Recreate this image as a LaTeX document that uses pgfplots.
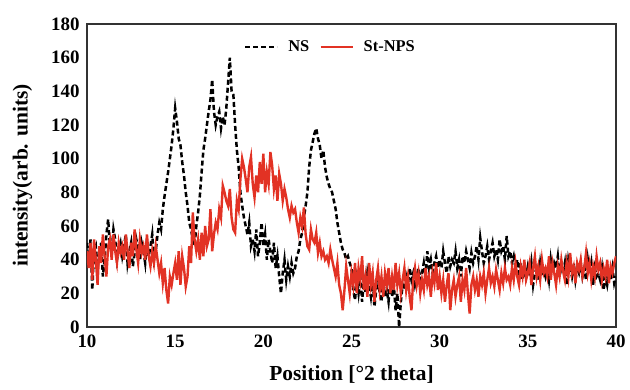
\documentclass[border=0pt]{standalone}
\usepackage{fontspec}
\setmainfont{Liberation Serif}
\usepackage{pgfplots}
\pgfplotsset{compat=1.18}
\definecolor{redline}{RGB}{226,50,36}
\begin{document}
\begin{tikzpicture}
\begin{axis}[
  scale only axis, width=529bp, height=303bp,
  xmin=10, xmax=40, ymin=0, ymax=180,
  xtick={10,15,...,40}, ytick={0,20,...,180},
  major tick length=0pt,
  axis line style={black!80, line width=1.3bp},
  /pgf/number format/assume math mode=true,
  ticklabel style={font=\fontsize{19}{22}\selectfont\bfseries},
  xticklabel style={yshift=-4bp},
  yticklabel style={xshift=-4bp},
  xlabel={Position [°2 theta]},
  ylabel={intensity(arb. units)},
  label style={font=\fontsize{21.5}{25}\selectfont\bfseries},
  xlabel style={yshift=-12bp},
  ylabel style={yshift=12bp},
  legend style={draw=none, fill=none, at={(0.46,0.924)}, anchor=center,
    font=\fontsize{16.5}{19}\selectfont\bfseries, column sep=8bp},
  legend columns=2,
  legend cell align=left,
  legend image code/.code={\draw[#1] (0bp,0bp) -- (32bp,0bp);},
]
\addplot[black, line width=2.5bp, dash pattern=on 5bp off 3bp] table[x expr=10+\coordindex/10, y index=0] {
y
50
38
52
22
45
48
35
42
50
30
40
55
64
48
45
58
52
40
46
50
42
48
55
38
45
50
36
44
52
47
40
50
45
38
52
42
48
55
40
45
55
62
58
70
78
85
92
100
108
118
130
122
112
108
98
90
80
72
62
58
52
48
60
68
78
92
105
112
120
128
135
147
128
120
125
128
118
125
120
130
145
160
140
138
120
105
95
80
72
65
60
55
62
48
52
45
58
42
50
62
48
55
40
52
45
38
50
35
42
30
20
32
40
28
36
30
38
32
35
42
45
52
56
65
72
80
95
105
110
115
118
112
108
100
105
95
89
85
82
80
75
70
62
56
50
46
44
40
42
38
35
22
16
28
20
30
15
28
20
32
25
18
28
12
22
30
20
15
28
18
22
15
28
18
25
10
20
0
15
25
22
30
25
35
28
32
25
30
35
28
32
38
30
45
35
40
32
38
42
35
40
35
45
38
32
42
36
40
38
45
35
40
30
42
38
45
40
35
44
38
42
48
40
53
45
38
42
48
40
45
50
42
46
40
52
45
48
40
54
42
45
38
42
35
40
32
38
28
35
30
36
30
38
25
32
35
28
38
30
34
30
36
28
40
32
38
35
42
30
36
32
38
25
40
35
30
38
28
35
32
38
30
35
28
40
32
38
25
35
30
32
28
35
22
30
25
32
28
35
26
30
};
\addlegendentry{NS}
\addplot[redline, line width=2.4bp] table[x expr=10+\coordindex/10, y index=0] {
y
45
35
50
28
52
40
25
48
38
55
42
30
48
52
40
55
45
38
50
44
48
40
55
45
35
50
42
58
46
38
52
44
48
40
55
42
36
45
38
48
40
32
38
26
35
22
14
30
25
32
38
28
45
25
42
35
24
30
48
38
68
52
45
52
40
56
42
60
48
52
70
45
55
62
58
70
65
84
80
75
72
82
65
58
56
75
70
88
100
95
88
80
95
101
85
77
90
80
98
85
103
80
92
85
104
96
82
90
75
91
85
75
82
77
70
65
72
68
70
62
56
65
60
71
55
48
46
58
52
50
56
44
50
42
45
40
42
38
46
40
35
30
38
25
20
10
22
36
28
20
32
25
38
20
35
28
42
22
30
18
38
25
32
15
28
35
22
30
18
32
25
35
20
30
22
38
25
32
20
28
35
22
30
18
10
28
35
25
32
20
28
22
35
25
30
18
32
26
38
22
30
20
28
15
25
32
10
22
28
18
25
30
15
28
22
35
20
8
25
30
22
28
18
30
25
32
20
28
35
26
30
24
34
28
22
32
26
35
28
30
25
35
28
38
30
25
36
30
40
28
32
38
25
35
42
30
36
28
40
32
35
30
42
28
38
32
25
36
30
40
33
28
38
30
44
32
36
26
38
34
40
30
35
44
32
38
28
36
30
42
34
38
28
35
30
40
26
36
32
38
42
};
\addlegendentry{St-NPS}
\end{axis}
\pgfresetboundingbox
\path[use as bounding box] (-87bp,-63bp) rectangle (543bp,327bp);
\end{tikzpicture}
\end{document}
